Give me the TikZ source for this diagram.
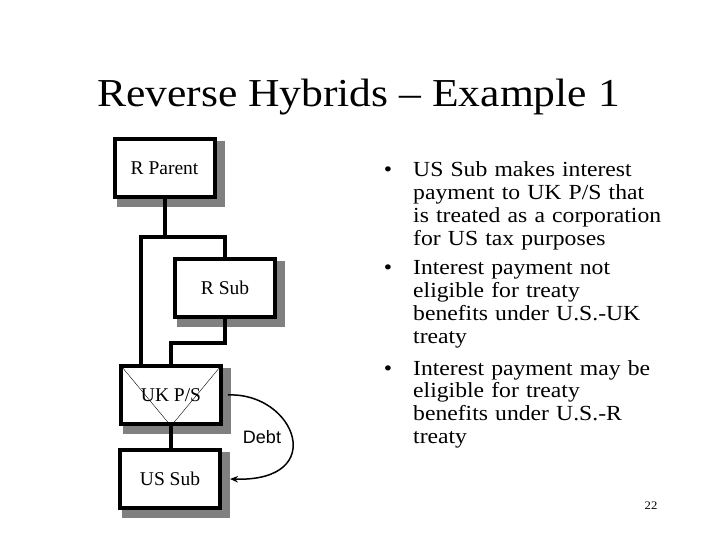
\documentclass[tikz,border=0pt]{standalone}
\usepackage{fontspec}
\setmainfont{Liberation Serif}
\newfontfamily\slidefont[FakeStretch=1.1]{Liberation Serif}
\newfontfamily\debtfont{Liberation Sans}
\usepackage{tikz}
\usetikzlibrary{arrows.meta, backgrounds}
\definecolor{shadowgray}{RGB}{128,128,128}

\begin{document}
\begin{tikzpicture}[x=1bp, y=-1bp,
    entity/.style={draw, line width=4bp, fill=white, minimum width=100bp, minimum height=58bp,
        inner sep=0pt, font=\fontsize{19.5bp}{22bp}\selectfont},
    link/.style={line width=4bp},
    point/.style={anchor=base west, text width=280bp, align=left, inner sep=0pt,
        font=\slidefont\fontsize{21.5bp}{22.7bp}\selectfont},
    dot/.style={anchor=base, inner sep=0pt, font=\slidefont\fontsize{21.5bp}{22.7bp}\selectfont}]
    \path[use as bounding box] (0,0) rectangle (720,540);

    \node[anchor=base, font=\slidefont\fontsize{39.6bp}{44bp}\selectfont] (title) at (358.5,107) {Reverse Hybrids – Example 1};

    \node[entity] (rparent) at (164.5,168) {R Parent};
    \node[entity] (rsub) at (225,288) {R Sub};
    \node[entity] (ukps) at (171,395) {UK P/S};
    \node[entity] (ussub) at (170,479) {US Sub};

    \begin{scope}[on background layer]
        \fill[white] (0,0) rectangle (720,540);
        \foreach \b in {rparent, rsub, ukps, ussub}
            \fill[shadowgray] ([shift={(4,4)}]\b.north west) rectangle ([shift={(8,8)}]\b.south east);
    \end{scope}

    \draw[link] (rparent.south) -- ++(0,38) coordinate (fork);
    \draw[link] (rsub.north) |- (fork) -| ([xshift=-30bp]ukps.north);
    \draw[link] (rsub.south) -- ++(0,24) -| (ukps.north);
    \draw[link] (ukps.south) -- (ukps.south |- ussub.north);
    \draw[thin] ([shift={(3,3)}]ukps.north west) -- (ukps.south) -- ([shift={(-3,3)}]ukps.north east);

    \draw[line width=1.5bp, -{Stealth[length=8bp, width=6.5bp]}] ([xshift=5bp]ukps.east)
        .. controls (295,392) and (330,482) .. ([xshift=8bp]ussub.east);
    \node[font=\debtfont\fontsize{18bp}{20bp}\selectfont] (debtlbl) at (262,437) {Debt};

    \foreach \n/\y in {1/177, 2/275, 3/375}
        \node[dot] (dot\n) at (388,\y) {\textbullet};
    \node[point] (point1) at (413,177) {US Sub makes interest\\payment to UK P/S that\\is treated as a corporation\\for US tax purposes};
    \node[point] (point2) at (413,275) {Interest payment not\\eligible for treaty\\benefits under U.S.-UK\\treaty};
    \node[point] (point3) at (413,375) {Interest payment may be\\eligible for treaty\\benefits under U.S.-R\\treaty};

    \node[font=\slidefont\fontsize{11.5bp}{13bp}\selectfont] (pagenum) at (651,506) {22};
\end{tikzpicture}
\end{document}
